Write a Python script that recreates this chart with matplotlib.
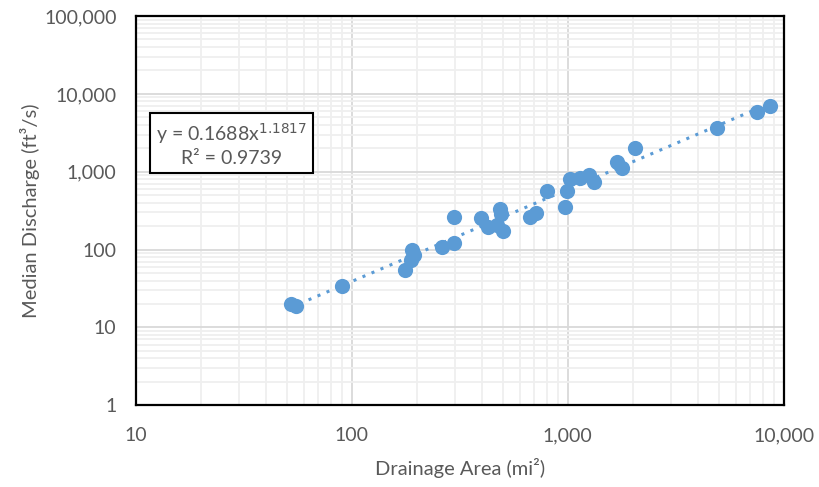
import matplotlib
matplotlib.use("Agg")
import matplotlib.pyplot as plt
import numpy as np
from matplotlib.ticker import FuncFormatter, LogLocator, NullFormatter

# drainage area (mi2) and median discharge (ft3/s)
area = [52, 55, 90, 176, 187, 194, 189, 260, 297, 297, 398, 427, 470,
        484, 492, 501, 668, 713, 805, 973, 990, 1018, 1143, 1250, 1328,
        1690, 1784, 2056, 4920, 7500, 8650]
discharge = [20, 19, 34, 54, 73, 86, 98, 108, 120, 263, 251, 196, 205,
             330, 285, 172, 262, 298, 568, 353, 568, 800, 833, 902, 741,
             1340, 1122, 1990, 3680, 5920, 7060]

coef = 0.1688
expo = 1.1817
eq_text = "y = 0.1688x$^{1.1817}$\nR² = 0.9739"

blue = "#5b9bd5"
gray = "#595959"

plt.rcParams['font.family'] = ['Lato', 'DejaVu Sans']

fig = plt.figure(figsize=(8.19, 4.87), dpi=100)
ax = fig.add_axes([0.166, 0.168, 0.791, 0.799])

ax.set_xscale('log')
ax.set_yscale('log')
ax.set_xlim(10, 10000)
ax.set_ylim(1, 100000)

# trendline over the data range
xs = np.logspace(np.log10(min(area)), np.log10(max(area)), 100)
ax.plot(xs, coef * xs ** expo, linestyle=(0, (1, 2.2)), color=blue, lw=2.2, zorder=2)
ax.scatter(area, discharge, s=120, color=blue, zorder=3, linewidths=0)

ax.xaxis.set_minor_locator(LogLocator(base=10, subs=np.arange(2, 10), numticks=20))
ax.yaxis.set_minor_locator(LogLocator(base=10, subs=np.arange(2, 10), numticks=20))
ax.xaxis.set_minor_formatter(NullFormatter())
ax.yaxis.set_minor_formatter(NullFormatter())
fmt = FuncFormatter(lambda v, p: f"{v:,.0f}")
ax.xaxis.set_major_formatter(fmt)
ax.yaxis.set_major_formatter(fmt)

ax.grid(which='major', color='#d9d9d9', lw=1.3)
ax.grid(which='minor', color='#efefef', lw=1.3)
ax.set_axisbelow(True)

ax.tick_params(which='both', length=0, labelsize=14, colors=gray)
ax.tick_params(axis='x', pad=16)
ax.tick_params(axis='y', pad=14)
for s in ax.spines.values():
    s.set_color('black')
    s.set_linewidth(1.6)

ax.set_xlabel("Drainage Area (mi²)", fontsize=14.5, color=gray, labelpad=10)
ax.set_ylabel("Median Discharge (ft³/s)", fontsize=14.5, color=gray, labelpad=3)

ax.text(0.283, 0.704, eq_text, transform=fig.transFigure, ha='center', va='center',
        fontsize=14, color=gray, linespacing=1.25,
        bbox=dict(boxstyle='square,pad=0.3', fc='white', ec='black', lw=1.5))

fig.savefig("out.png", dpi=100)
